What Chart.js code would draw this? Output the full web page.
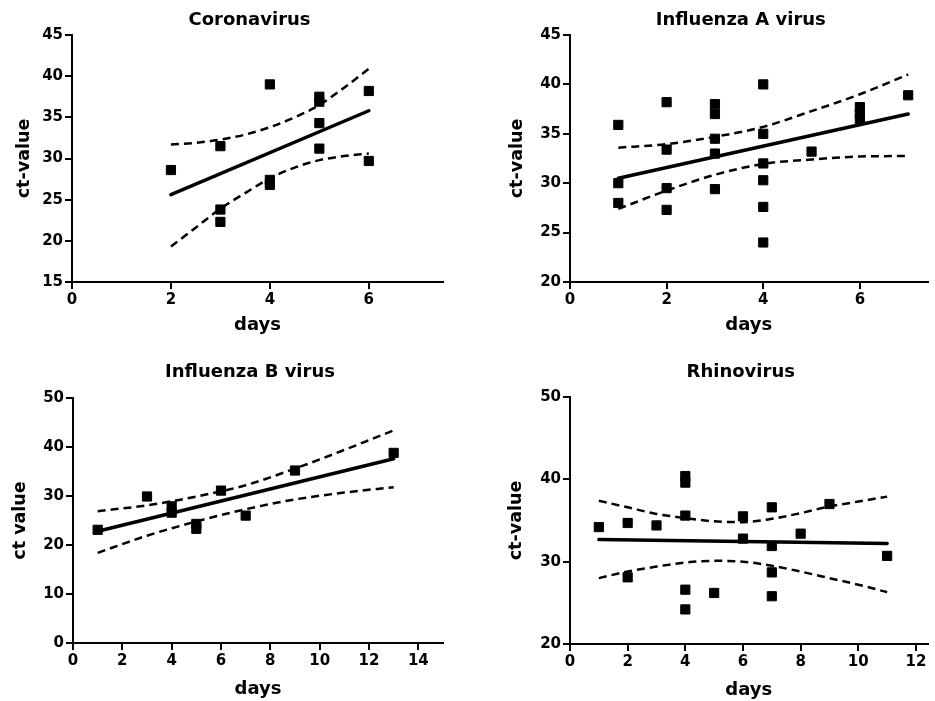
<!DOCTYPE html>
<html lang="en">
<head>
<meta charset="UTF-8">
<title>ct-value vs days</title>
<style>
  body { margin: 0; background: #fff; }
  canvas { position: absolute; }
</style>
</head>
<body>
  <canvas id="corona" width="465" height="340" style="left:0;top:0"></canvas>
  <canvas id="fluA" width="470" height="340" style="left:465px;top:0"></canvas>
  <canvas id="fluB" width="465" height="361" style="left:0;top:340px"></canvas>
  <canvas id="rhino" width="470" height="361" style="left:465px;top:340px"></canvas>
<script src="https://cdn.jsdelivr.net/npm/chart.js"></script>
<script>
// Coronavirus
const coronaDays = [2, 3, 3, 3, 4, 4, 4, 5, 5, 5, 5, 6, 6];
const coronaCt = [28.6, 31.5, 23.8, 22.3, 39.0, 27.4, 26.8, 37.5, 36.9, 34.3, 31.2, 38.2, 29.7];
const coronaFitDays = [2, 6];
const coronaFit = [25.6, 35.8];
const coronaBandDays = [2, 2.5, 3, 3.5, 4, 4.5, 5, 5.5, 6];
const coronaUpper = [31.7, 31.9, 32.3, 32.9, 33.8, 35.0, 36.5, 38.6, 40.9];
const coronaLower = [19.3, 21.6, 23.9, 25.8, 27.6, 28.9, 29.8, 30.3, 30.6];

// Influenza A
const fluADays = [1, 1, 1, 2, 2, 2, 2, 3, 3, 3, 3, 3, 4, 4, 4, 4, 4, 4, 5, 6, 6, 6, 7];
const fluACt = [35.9, 30.0, 28.0, 38.2, 33.4, 29.5, 27.3, 38.0, 37.0, 34.5, 33.0, 29.4, 40.0, 35.0, 32.0, 30.3, 27.6, 24.0, 33.2, 37.7, 37.0, 36.5, 38.9];
const fluAFitDays = [1, 7];
const fluAFit = [30.5, 37.0];
const fluABandDays = [1, 2, 3, 4, 5, 6, 7];
const fluAUpper = [33.6, 33.95, 34.7, 35.7, 37.3, 39.0, 41.0];
const fluALower = [27.4, 29.25, 30.85, 31.95, 32.4, 32.7, 32.75];

// Influenza B
const fluBDays = [1, 3, 4, 4, 5, 5, 6, 7, 9, 13];
const fluBCt = [23.1, 29.9, 27.9, 26.6, 24.3, 23.3, 31.1, 26.0, 35.2, 38.8];
const fluBFitDays = [1, 13];
const fluBFit = [22.8, 37.6];
const fluBBandDays = [1, 3, 5, 7, 9, 11, 13];
const fluBUpper = [26.9, 28.1, 29.9, 32.2, 35.6, 39.4, 43.4];
const fluBLower = [18.4, 21.9, 24.8, 27.3, 29.3, 30.7, 31.8];

// Rhinovirus
const rhinoDays = [1, 2, 2, 3, 4, 4, 4, 4, 4, 5, 6, 6, 7, 7, 7, 7, 8, 9, 11];
const rhinoCt = [34.2, 34.7, 28.1, 34.4, 40.4, 39.6, 35.6, 26.6, 24.2, 26.2, 35.5, 32.8, 36.6, 31.9, 28.7, 25.8, 33.4, 37.0, 30.7];
const rhinoFitDays = [1, 11];
const rhinoFit = [32.7, 32.2];
const rhinoBandDays = [1, 2, 3, 4, 5, 6, 7, 8, 9, 10, 11];
const rhinoUpper = [37.4, 36.6, 35.8, 35.3, 34.9, 34.8, 35.2, 35.9, 36.7, 37.3, 37.9];
const rhinoLower = [28.0, 28.8, 29.4, 29.9, 30.1, 30.0, 29.5, 28.8, 28.0, 27.2, 26.3];

const FONT = '"DejaVu Sans", Verdana, sans-serif';
Chart.defaults.font.family = FONT;
Chart.defaults.color = '#000';

// title centred over the plot area, not the whole canvas
const panelTitle = {
    id: 'panelTitle',
    afterDraw(chart, args, opts) {
        const ctx = chart.ctx;
        const a = chart.chartArea;
        ctx.save();
        ctx.font = 'bold 18px ' + FONT;
        ctx.fillStyle = '#000';
        ctx.textAlign = 'center';
        ctx.textBaseline = 'middle';
        ctx.fillText(opts.text, (a.left + a.right) / 2 + opts.dx, opts.y);
        ctx.restore();
    }
};

const toXY = (xs, ys) => xs.map((x, i) => ({x: x, y: ys[i]}));

function panel(id, o) {
    const dashed = (ys) => ({
        data: toXY(o.bandDays, ys),
        showLine: true,
        borderColor: '#000',
        borderWidth: 2.5,
        borderDash: [8, 5],
        pointRadius: 0,
        cubicInterpolationMode: 'monotone'
    });
    new Chart(document.getElementById(id), {
        type: 'scatter',
        data: {
            datasets: [
                dashed(o.upper),
                dashed(o.lower),
                {
                    data: toXY(o.fitDays, o.fit),
                    showLine: true,
                    borderColor: '#000',
                    borderWidth: 3.5,
                    borderCapStyle: 'round',
                    pointRadius: 0
                },
                {
                    data: toXY(o.days, o.ct),
                    pointStyle: 'rect',
                    pointRadius: 6.5,
                    backgroundColor: '#000',
                    borderColor: '#000',
                    borderWidth: 1
                }
            ]
        },
        options: {
            responsive: false,
            animation: false,
            layout: { padding: o.pad },
            plugins: {
                legend: { display: false },
                tooltip: { enabled: false },
                panelTitle: { text: o.title, y: o.titleY, dx: -8 }
            },
            scales: {
                x: {
                    type: 'linear',
                    min: 0,
                    max: o.xMax,
                    ticks: { stepSize: 2, includeBounds: false, padding: 2, color: '#000', font: { size: 15, weight: 'bold' } },
                    grid: { drawOnChartArea: false, color: '#000', lineWidth: 2, tickLength: 7 },
                    border: { color: '#000', width: 2 },
                    title: { display: true, text: 'days', color: '#000', font: { size: 18, weight: 'bold' }, padding: { top: 0, bottom: o.xTitlePad } },
                    afterFit: (s) => { s.height = o.xHeight; }
                },
                y: {
                    min: o.yMin,
                    max: o.yMax,
                    ticks: { stepSize: o.yStep, padding: 2, color: '#000', font: { size: 15, weight: 'bold' } },
                    grid: { drawOnChartArea: false, color: '#000', lineWidth: 2, tickLength: 7 },
                    border: { color: '#000', width: 2 },
                    title: { display: true, text: o.yLabel, color: '#000', font: { size: 17.5, weight: 'bold' }, padding: { top: o.yTitlePad, bottom: 0 } },
                    afterFit: (s) => { s.width = o.yWidth; }
                }
            }
        },
        plugins: [panelTitle]
    });
}

panel('corona', {
    title: 'Coronavirus', titleY: 20, yLabel: 'ct-value',
    days: coronaDays, ct: coronaCt, fitDays: coronaFitDays, fit: coronaFit,
    bandDays: coronaBandDays, upper: coronaUpper, lower: coronaLower,
    xMax: 7.5, yMin: 15, yMax: 45, yStep: 5,
    pad: { top: 35, right: 22, bottom: 0, left: 0 }, yWidth: 72, xHeight: 58, yTitlePad: 14, xTitlePad: 4
});

panel('fluA', {
    title: 'Influenza A virus', titleY: 20, yLabel: 'ct-value',
    days: fluADays, ct: fluACt, fitDays: fluAFitDays, fit: fluAFit,
    bandDays: fluABandDays, upper: fluAUpper, lower: fluALower,
    xMax: 7.4, yMin: 20, yMax: 45, yStep: 5,
    pad: { top: 35, right: 0, bottom: 0, left: 28 }, yWidth: 77, xHeight: 58, yTitlePad: 14, xTitlePad: 4
});

panel('fluB', {
    title: 'Influenza B virus', titleY: 32, yLabel: 'ct value',
    days: fluBDays, ct: fluBCt, fitDays: fluBFitDays, fit: fluBFit,
    bandDays: fluBBandDays, upper: fluBUpper, lower: fluBLower,
    xMax: 15, yMin: 0, yMax: 50, yStep: 10,
    pad: { top: 58, right: 22, bottom: 0, left: 0 }, yWidth: 73, xHeight: 58, yTitlePad: 10, xTitlePad: 1
});

panel('rhino', {
    title: 'Rhinovirus', titleY: 32, yLabel: 'ct-value',
    days: rhinoDays, ct: rhinoCt, fitDays: rhinoFitDays, fit: rhinoFit,
    bandDays: rhinoBandDays, upper: rhinoUpper, lower: rhinoLower,
    xMax: 12.4, yMin: 20, yMax: 50, yStep: 10,
    pad: { top: 57, right: 0, bottom: 0, left: 28 }, yWidth: 77, xHeight: 57, yTitlePad: 13, xTitlePad: 0
});
</script>
</body>
</html>
